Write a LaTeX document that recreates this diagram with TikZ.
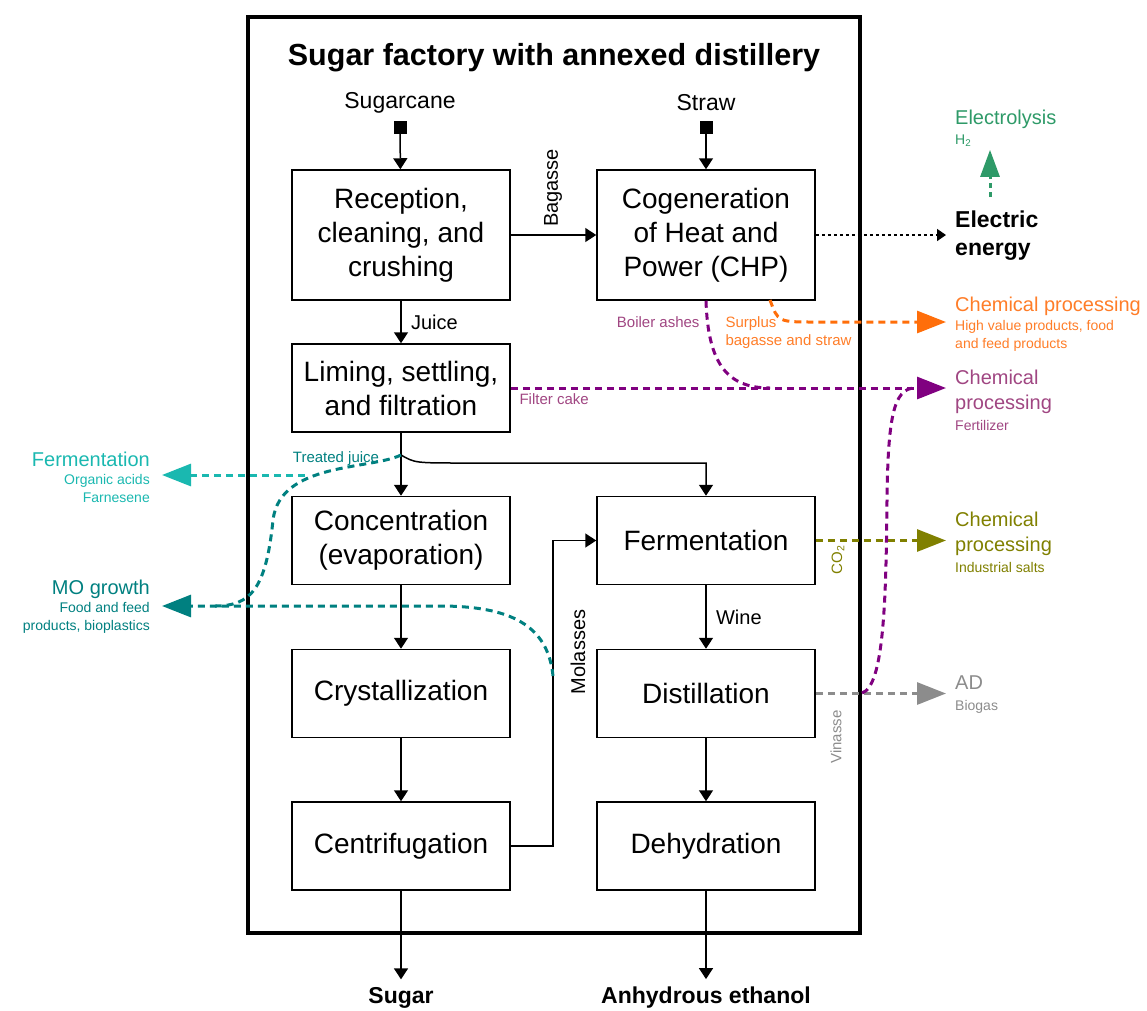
\documentclass[tikz,border=0pt]{standalone}
\usepackage{fontspec}
\setmainfont{Liberation Sans}
\usetikzlibrary{arrows.meta,positioning,calc}

\definecolor{tealA}{RGB}{0,128,128}
\definecolor{cyanA}{RGB}{26,184,176}
\definecolor{orangeA}{RGB}{255,110,10}
\definecolor{orangeT}{RGB}{255,125,40}
\definecolor{purpleA}{RGB}{128,0,128}
\definecolor{mauveA}{RGB}{160,70,130}
\definecolor{oliveA}{RGB}{128,128,0}
\definecolor{grayA}{RGB}{140,140,140}
\definecolor{greenA}{RGB}{46,154,104}

\newcommand{\hd}[1]{{\fontsize{20}{24}\selectfont #1}}

\tikzset{
  procbox/.style={draw, line width=1.5pt, minimum width=218pt, minimum height=88pt,
    align=center, font=\fontsize{28}{34}\selectfont},
  flow/.style={line width=1.5pt, -{Triangle[length=11pt,width=14pt]}},
  flowlbl/.style={font=\fontsize{20}{24}\selectfont},
  smalllbl/.style={font=\fontsize{15}{18}\selectfont},
  srcsq/.style={fill=black, minimum size=13pt, inner sep=0pt},
  prodlbl/.style={font=\bfseries\fontsize{23}{28}\selectfont, inner sep=8pt},
  sidestream/.style={line width=3pt, dash pattern=on 7pt off 5pt,
    -{Triangle[length=29pt,width=22pt]}},
  sideright/.style={anchor=west, align=left, inner xsep=9pt,
    font=\fontsize{14}{18}\selectfont},
  sideleft/.style={anchor=east, align=right, inner xsep=12pt,
    font=\fontsize{14}{18}\selectfont},
}

\begin{document}
\begin{tikzpicture}[x=1pt,y=-1pt]
  \useasboundingbox (0,0) rectangle (1147,1010);
  % Rahmen und Titel
  \draw[line width=3.5pt] (248,17) rectangle (860,933);
  \node[font=\bfseries\fontsize{30.5}{36}\selectfont] (title) at (554,58) {Sugar factory with annexed distillery};

  % Prozessschritte
  \node[procbox, minimum height=130pt] (recep) at (401,235) {Reception,\\cleaning, and\\crushing};
  \node[procbox, minimum height=130pt] (chp) at (706,235) {Cogeneration\\of Heat and\\Power (CHP)};
  \node[procbox] (liming) at (401,388) {Liming, settling,\\and filtration};
  \node[procbox] (conc) at (401,540.5) {Concentration\\(evaporation)};
  \node[procbox] (cryst) at (401,693.5) {Crystallization};
  \node[procbox] (centri) at (401,846) {Centrifugation};
  \node[procbox] (ferm) at (706,540.5) {Fermentation};
  \node[procbox] (dist) at (706,693.5) {Distillation};
  \node[procbox] (dehyd) at (706,846) {Dehydration};

  % Eingaenge
  \node[font=\fontsize{23}{27}\selectfont] (canelbl) at (400,103) {Sugarcane};
  \node[srcsq] (canesq) at (400,127) {};
  \node[font=\fontsize{23}{27}\selectfont] (strawlbl) at (706,103) {Straw};
  \node[srcsq] (strawsq) at (706,127) {};
  \draw[flow] (canesq) -- (recep);
  \draw[flow] (strawsq) -- (chp);

  % Hauptstrom
  \draw[flow] (recep) -- (chp);
  \node[flowlbl, rotate=90] (baglbl) at (553,188) {Bagasse};
  \draw[flow] (recep) -- node[flowlbl, right, xshift=6pt] {Juice} (liming);
  \draw[flow] (liming) -- (conc);
  \coordinate (tj) at (401,455);
  \draw[flow] (tj) .. controls (415,463) .. (465,463) -| (ferm.north);
  \draw[flow] (conc) -- (cryst);
  \draw[flow] (cryst) -- (centri);
  \coordinate (molbend) at (553,846);
  \draw[flow] (centri.east) -- (molbend) |- (ferm.west);
  \node[flowlbl, rotate=90] (mollbl) at (578,652) {Molasses};
  \draw[flow] (ferm) -- node[flowlbl, right, xshift=6pt] {Wine} (dist);
  \draw[flow] (dist) -- (dehyd);

  % Produkte
  \node[prodlbl] (sugar) at (401,998) {Sugar};
  \node[prodlbl] (ethanol) at (706,998) {Anhydrous ethanol};
  \draw[flow] (centri) -- (sugar);
  \draw[flow] (dehyd) -- (ethanol);

  % Rechte Seite
  \node[anchor=west, align=left, inner xsep=9pt, font=\bfseries\fontsize{23}{28}\selectfont] (elec) at (946,236) {Electric\\energy};
  \draw[line width=1.5pt, dash pattern=on 3pt off 3pt, -{Triangle[length=9pt,width=12pt]}] (chp) -- (elec.west |- chp);
  \node[sideright, text=greenA] (electro) at (946,128) {\hd{Electrolysis}\\[2pt]H\textsubscript{2}};
  \coordinate (h2foot) at (990,197);
  \draw[line width=3pt, dash pattern=on 5pt off 4pt, greenA, -{Triangle[length=27pt,width=19pt]}] (h2foot) -- (h2foot |- electro.south);

  \node[sideright, text=orangeT] (hvp) at (946,324) {\hd{Chemical processing}\\[1pt]High value products, food\\and feed products};
  \coordinate (surplus) at (770,300);
  \draw[sidestream, orangeA] (surplus) .. controls (778,322) .. (815,322) -- (hvp.west |- 0,322);
  \node[smalllbl, text=orangeT, anchor=north west, align=left] (surpluslbl) at (722,313) {Surplus\\bagasse and straw};

  \node[sideright, text=mauveA] (fert) at (946,400) {\hd{Chemical}\\[7pt]\hd{processing}\\[3pt]Fertilizer};
  \draw[sidestream, purpleA] (liming) -- (fert.west |- liming);
  \node[smalllbl, text=mauveA, anchor=west] (cakelbl) at (516,399) {Filter cake};
  \draw[line width=3pt, dash pattern=on 7pt off 5pt, purpleA] (chp.south) .. controls (708,365) and (728,388) .. (770,388);
  \node[smalllbl, text=mauveA, anchor=east] (ashlbl) at (703,322) {Boiler ashes};

  \node[sideright, text=oliveA] (salts) at (946,542) {\hd{Chemical}\\[7pt]\hd{processing}\\[3pt]Industrial salts};
  \draw[sidestream, oliveA] (ferm) -- (salts.west |- ferm);
  \node[smalllbl, text=oliveA, rotate=90] (co2lbl) at (838,560) {CO\textsubscript{2}};

  \node[sideright, text=grayA] (ad) at (946,695) {\hd{AD}\\[3pt]Biogas};
  \draw[sidestream, grayA] (dist) -- (ad.west |- dist);
  \node[smalllbl, text=grayA, rotate=90] (vinlbl) at (836,737) {Vinasse};
  \coordinate (vinsplit) at (862,693);
  \draw[line width=3pt, dash pattern=on 7pt off 5pt, purpleA] (vinsplit) .. controls (884,686) and (886,600) .. (887,500) .. controls (888,420) and (893,388) .. (915,388);

  % Linke Seite
  \node[sideleft, text=cyanA] (fermout) at (162,477) {\hd{Fermentation}\\Organic acids\\Farnesene};
  \node[sideleft, text=tealA] (mogrowth) at (162,607) {\hd{MO growth}\\Food and feed\\products, bioplastics};
  \node[smalllbl, text=tealA] (tjlbl) at (336,459) {Treated juice};
  \coordinate (fermsplit) at (305,475);
  \draw[sidestream, cyanA] (fermsplit) -- (fermout.east |- fermsplit);
  \draw[line width=3pt, dash pattern=on 7pt off 5pt, tealA] (tj) .. controls (370,470) and (280,462) .. (273,520) .. controls (266,590) and (250,606) .. (215,606);
  \coordinate (molsplit) at (553,676);
  \draw[sidestream, tealA] (molsplit) .. controls (548,625) and (510,606) .. (440,606) -- (mogrowth.east |- 0,606);
\end{tikzpicture}
\end{document}
